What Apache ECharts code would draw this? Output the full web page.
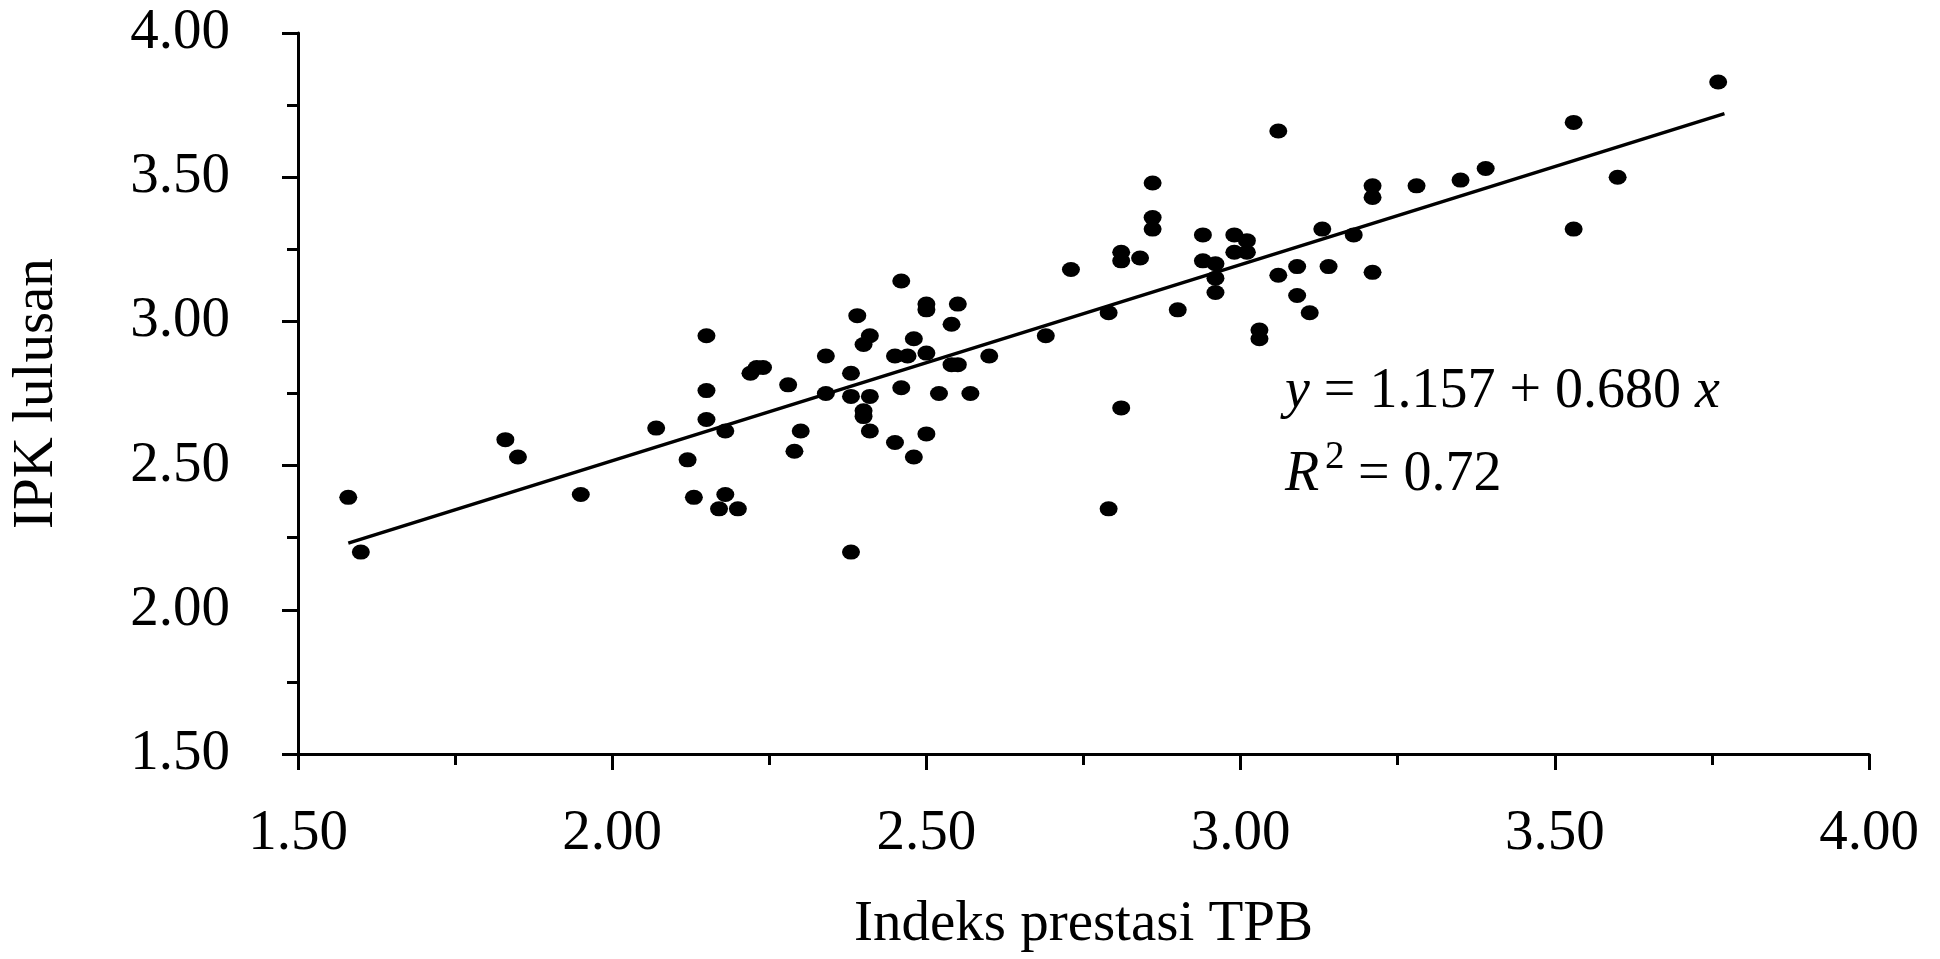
<!DOCTYPE html>
<html>
<head>
<meta charset="utf-8">
<script src="https://cdn.jsdelivr.net/npm/echarts@6/dist/echarts.min.js"></script>
<style>
html,body{margin:0;padding:0;background:#fff;}
#chart{width:1940px;height:959px;}
</style>
</head>
<body>
<div id="chart"></div>
<script>
// Indeks prestasi TPB (x) vs IPK lulusan (y)
const tpb = [1.58,1.60,1.83,1.85,1.95,2.07,2.12,2.13,2.15,2.15,2.15,2.18,2.18,2.17,2.20,2.22,2.23,2.24,2.28,2.30,
  2.29,2.34,2.34,2.38,2.38,2.38,2.39,2.40,2.41,2.40,2.40,2.41,2.41,2.46,2.45,2.47,2.46,2.45,2.48,2.48,
  2.50,2.50,2.50,2.50,2.52,2.54,2.54,2.55,2.55,2.57,2.60,2.69,2.73,2.79,2.81,2.79,2.81,2.81,2.84,2.86,
  2.86,2.86,2.90,2.94,2.94,2.96,2.96,2.96,2.99,2.99,3.01,3.01,3.03,3.03,3.06,3.06,3.09,3.09,3.11,3.13,
  3.14,3.18,3.21,3.21,3.21,3.28,3.35,3.39,3.53,3.53,3.60,3.76];
const ipk = [2.39,2.20,2.59,2.53,2.40,2.63,2.52,2.39,2.95,2.76,2.66,2.62,2.40,2.35,2.35,2.82,2.84,2.84,2.78,2.62,
  2.55,2.88,2.75,2.82,2.74,2.20,3.02,2.92,2.95,2.69,2.67,2.74,2.62,3.14,2.88,2.88,2.77,2.58,2.94,2.53,
  2.89,3.06,3.04,2.61,2.75,2.99,2.85,2.85,3.06,2.75,2.88,2.95,3.18,3.03,2.70,2.35,3.24,3.21,3.22,3.48,
  3.36,3.32,3.04,3.30,3.21,3.20,3.15,3.10,3.30,3.24,3.28,3.24,2.97,2.94,3.66,3.16,3.19,3.09,3.03,3.32,
  3.19,3.30,3.47,3.43,3.17,3.47,3.49,3.53,3.69,3.32,3.50,3.83];
// Regression: y = 1.157 + 0.680 x, R^2 = 0.72
const intercept = 1.157;
const slope = 0.680;
const fitRange = [1.58, 3.77];
const tickLabelsX = ['1.50','2.00','2.50','3.00','3.50','4.00'];
const tickLabelsY = ['1.50','2.00','2.50','3.00','3.50','4.00'];

const points = tpb.map((x, i) => [x, ipk[i]]);
const fitLine = fitRange.map(x => [x, intercept + slope * x]);

const FONT = '"Liberation Serif", "Times New Roman", serif';
const chart = echarts.init(document.getElementById('chart'), null, {renderer: 'canvas'});

const axisCommon = {
  type: 'value', min: 1.5, max: 4, interval: 0.5,
  axisLine: {show: true, onZero: false, lineStyle: {color: '#000', width: 3}},
  axisTick: {show: true, inside: false, length: 16, lineStyle: {color: '#000', width: 3}},
  minorTick: {show: true, splitNumber: 2, length: 11, lineStyle: {color: '#000', width: 3}},
  splitLine: {show: false},
  nameTextStyle: {fontFamily: FONT, fontSize: 57, color: '#000'},
  nameLocation: 'middle'
};

chart.setOption({
  animation: false,
  backgroundColor: '#fff',
  grid: {left: 298, top: 33, width: 1571, height: 723, containLabel: false},
  xAxis: Object.assign({}, axisCommon, {
    name: 'Indeks prestasi TPB', nameGap: 143,
    axisLabel: {margin: 52, fontFamily: FONT, fontSize: 57, color: '#000',
      formatter: v => tickLabelsX[Math.round((v - 1.5) / 0.5)] || v.toFixed(2)}
  }),
  yAxis: Object.assign({}, axisCommon, {
    name: 'IPK lulusan', nameGap: 232, nameRotate: 90,
    axisLabel: {margin: 68, fontFamily: FONT, fontSize: 57, color: '#000',
      formatter: v => tickLabelsY[Math.round((v - 1.5) / 0.5)] || v.toFixed(2)}
  }),
  series: [
    {type: 'scatter', data: points, symbol: 'circle', symbolSize: [18, 15],
      itemStyle: {color: '#000', opacity: 1}, z: 3},
    {type: 'line', data: fitLine, symbol: 'none', lineStyle: {color: '#000', width: 3.5}, z: 2}
  ],
  graphic: [
    {type: 'text', left: 1285, top: 364, z: 10,
      style: {text: '{i|y} = 1.157 + 0.680 {i|x}', font: '56px ' + FONT, fill: '#000',
        rich: {i: {fontStyle: 'italic', fontFamily: FONT, fontSize: 56}}}},
    {type: 'text', left: 1285, top: 447, z: 10,
      style: {text: 'R', font: 'italic 56px ' + FONT, fill: '#000'}},
    {type: 'text', left: 1325, top: 438, z: 10,
      style: {text: '2', font: '39px ' + FONT, fill: '#000'}},
    {type: 'text', left: 1358, top: 447, z: 10,
      style: {text: '= 0.72', font: '56px ' + FONT, fill: '#000'}}
  ]
});
</script>
</body>
</html>
